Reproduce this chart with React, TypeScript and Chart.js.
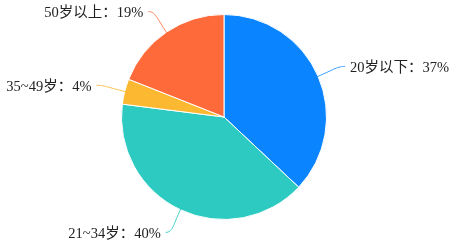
import React, { useEffect, useRef } from "react";
import { Chart, registerables } from "chart.js";

Chart.register(...registerables);

const categories = ["20岁以下", "21~34岁", "35~49岁", "50岁以上"];
const values = [37, 40, 4, 19];
const colors = ["#0a84ff", "#2ccac0", "#fdb832", "#ff6a3a"];
const lineColors = ["#3aa0ff", "#46d2c8", "#fdc24e", "#ff845a"];

const labelPlugin = {
  id: "outsideLabels",
  afterDatasetsDraw(chart: any) {
    const ctx = chart.ctx as CanvasRenderingContext2D;
    const meta = chart.getDatasetMeta(0);
    ctx.save();
    ctx.font = '14.5px "Liberation Serif", "Noto Sans CJK SC", serif';
    ctx.textBaseline = "middle";
    meta.data.forEach((arc: any, i: number) => {
      const { x, y, startAngle, endAngle, outerRadius } = arc.getProps(
        ["x", "y", "startAngle", "endAngle", "outerRadius"],
        true
      );
      const mid = (startAngle + endAngle) / 2;
      const cos = Math.cos(mid);
      const sin = Math.sin(mid);
      const right = cos >= 0;
      const dir = right ? 1 : -1;
      const sx = x + cos * (outerRadius - 1);
      const sy = y + sin * (outerRadius - 1);
      const r2 = outerRadius + 25;
      const px = x + cos * r2;
      const py = y + sin * r2;
      const ex = px + dir * 4;
      const ey = py;
      const cx = x + cos * (outerRadius + 18);
      const cy = y + sin * (outerRadius + 18);
      ctx.strokeStyle = lineColors[i];
      ctx.lineWidth = 1;
      ctx.beginPath();
      ctx.moveTo(sx, sy);
      ctx.bezierCurveTo(cx, cy, px - dir * 3, py, ex, ey);
      ctx.stroke();
      ctx.fillStyle = "#222";
      ctx.textAlign = right ? "left" : "right";
      const text = `${categories[i]}：${values[i]}%`;
      ctx.fillText(text, ex + dir * 5, ey + 2);
    });
    ctx.restore();
  },
};

export default function App() {
  const ref = useRef<HTMLCanvasElement>(null);
  useEffect(() => {
    document.body.style.margin = "0";
    const chart = new Chart(ref.current!, {
      type: "pie",
      data: {
        labels: categories,
        datasets: [
          {
            data: values,
            backgroundColor: colors,
            borderColor: "#ffffff",
            borderWidth: 1,
          },
        ],
      },
      options: {
        animation: false,
        responsive: false,
        layout: { padding: { left: 121, right: 128, top: 14, bottom: 25 } },
        plugins: {
          legend: { display: false },
          tooltip: { enabled: false },
          title: { display: false },
        },
      },
      plugins: [labelPlugin],
    });
    return () => chart.destroy();
  }, []);
  return (
    <div style={{ width: 455, height: 245 }}>
      <canvas ref={ref} width={455} height={245} style={{ width: 455, height: 245 }} />
    </div>
  );
}
